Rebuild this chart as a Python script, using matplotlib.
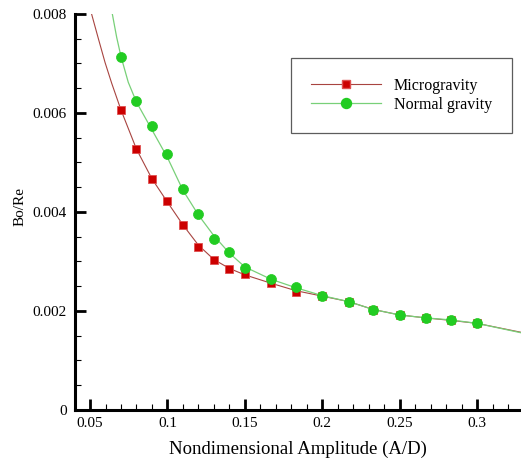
import matplotlib
matplotlib.use("Agg")
import matplotlib.pyplot as plt
import matplotlib.ticker as mticker
from matplotlib.lines import Line2D

# data (Bo/Re values in units of 1e-3)
micro_x = [0.07, 0.08, 0.09, 0.10, 0.11, 0.12, 0.13, 0.14, 0.15,
           0.167, 0.183, 0.20, 0.217, 0.233, 0.25, 0.267, 0.283, 0.30]
micro_y = [6.06, 5.27, 4.67, 4.23, 3.74, 3.30, 3.02, 2.85, 2.74,
           2.56, 2.39, 2.31, 2.19, 2.02, 1.92, 1.86, 1.82, 1.75]

normal_x = [0.07, 0.08, 0.09, 0.10, 0.11, 0.12, 0.13, 0.14, 0.15,
            0.167, 0.183, 0.20, 0.217, 0.233, 0.25, 0.267, 0.283, 0.30]
normal_y = [7.14, 6.25, 5.74, 5.17, 4.46, 3.95, 3.45, 3.20, 2.87,
            2.65, 2.48, 2.31, 2.19, 2.02, 1.92, 1.86, 1.82, 1.75]

# fitted curves
micro_fit_x = [0.051, 0.0554, 0.0597, 0.064, 0.07, 0.08, 0.09, 0.10,
               0.11, 0.12, 0.13, 0.14, 0.15, 0.167, 0.183, 0.20, 0.217, 0.233,
               0.25, 0.267, 0.283, 0.30, 0.3284]
micro_fit_y = [8.0, 7.50, 7.02, 6.60, 6.06, 5.27, 4.67, 4.20,
               3.74, 3.33, 3.04, 2.86, 2.73, 2.56, 2.41, 2.30, 2.19, 2.03,
               1.92, 1.86, 1.81, 1.75, 1.57]

normal_fit_x = [0.0644, 0.0672, 0.07, 0.0747, 0.08, 0.09, 0.10, 0.11, 0.12,
                0.13, 0.14, 0.15, 0.167, 0.183, 0.20, 0.217, 0.233, 0.25,
                0.267, 0.283, 0.30, 0.3284]
normal_fit_y = [8.0, 7.53, 7.14, 6.62, 6.22, 5.66, 5.10, 4.44, 3.94,
                3.52, 3.17, 2.89, 2.64, 2.47, 2.31, 2.19, 2.03, 1.92,
                1.86, 1.82, 1.75, 1.56]

RED_LINE = '#A84440'
RED_MK = '#CC0000'
GREEN_LINE = '#78D078'
GREEN_MK = '#22CC22'

plt.rcParams['font.family'] = 'Liberation Serif'

fig = plt.figure(figsize=(5.21, 4.59), dpi=100)
ax = fig.add_axes([0.144, 0.1068, 0.856, 0.8627])

sc = 1e-3
ax.plot(micro_fit_x, [v * sc for v in micro_fit_y], color=RED_LINE, lw=0.8)
ax.plot(normal_fit_x, [v * sc for v in normal_fit_y], color=GREEN_LINE, lw=0.9)
ax.plot(micro_x, [v * sc for v in micro_y], ls='none', marker='s', ms=6.3,
        mfc=RED_MK, mec='#E05050', mew=0.6)
ax.plot(normal_x, [v * sc for v in normal_y], ls='none', marker='o', ms=7.2,
        mfc=GREEN_MK, mec=GREEN_MK, mew=0.5)

ax.set_xlim(0.0403, 0.3284)
ax.set_ylim(0, 0.008)

ax.xaxis.set_major_locator(mticker.FixedLocator([0.05, 0.1, 0.15, 0.2, 0.25, 0.3]))
ax.xaxis.set_minor_locator(mticker.MultipleLocator(0.01))
ax.yaxis.set_major_locator(mticker.MultipleLocator(0.002))
ax.yaxis.set_minor_locator(mticker.MultipleLocator(0.0005))
ax.xaxis.set_major_formatter(mticker.FuncFormatter(lambda v, p: f'{v:g}'))
ax.yaxis.set_major_formatter(mticker.FuncFormatter(lambda v, p: f'{v:g}' if v else '0'))

ax.tick_params(which='major', direction='in', length=8, width=2, labelsize=11)
ax.tick_params(which='minor', direction='in', length=4, width=0.8)
ax.tick_params(axis='y', which='major', pad=6)
ax.tick_params(axis='x', which='major', pad=5)

for s in ['top', 'right']:
    ax.spines[s].set_visible(False)
for s in ['left', 'bottom']:
    ax.spines[s].set_linewidth(2.2)

ax.set_xlabel('Nondimensional Amplitude (A/D)', fontsize=13.5)
ax.set_ylabel('Bo/Re', fontsize=11)
ax.xaxis.set_label_coords(0.5, -0.078)
ax.yaxis.set_label_coords(-0.108, 0.515)

handles = [Line2D([], [], color=RED_LINE, lw=0.8, marker='s', ms=6.3,
                  mfc=RED_MK, mec='#E05050'),
           Line2D([], [], color=GREEN_LINE, lw=0.9, marker='o', ms=7.2,
                  mfc=GREEN_MK, mec=GREEN_MK)]
leg = ax.legend(handles, ['Microgravity', 'Normal gravity'], loc='upper left',
                bbox_to_anchor=(0.4836, 0.8896), borderaxespad=0, fontsize=11.5,
                numpoints=1, handlelength=4.4, handletextpad=0.8,
                labelspacing=0.2, borderpad=1.25, fancybox=False, frameon=True)
leg.get_frame().set_edgecolor('#333333')
leg.get_frame().set_linewidth(0.9)

fig.savefig('out.png', dpi=100)
